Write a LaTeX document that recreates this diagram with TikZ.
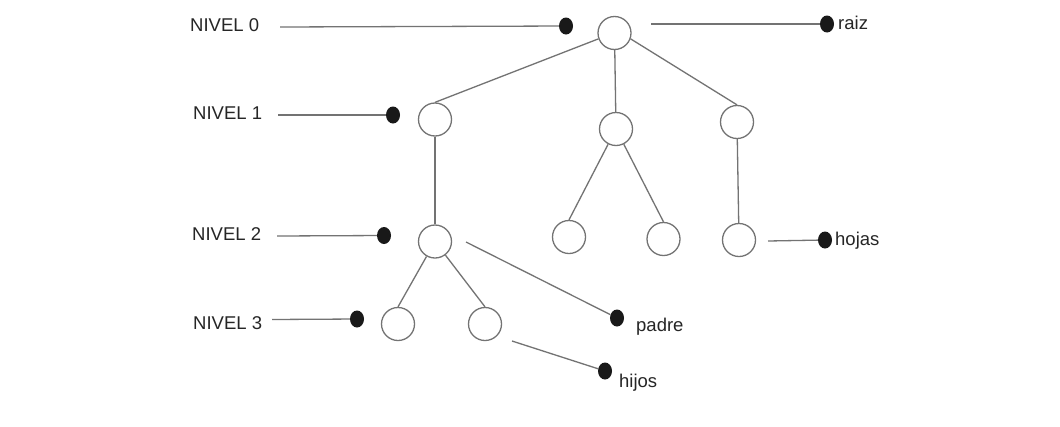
\documentclass[tikz,border=0pt]{standalone}
\usepackage{fontspec}
\setmainfont{Liberation Sans}
\usetikzlibrary{shapes.geometric}
\begin{document}
\begin{tikzpicture}[x=1pt,y=-1pt,
  tn/.style={circle,draw=black!55,line width=1.3pt,fill=white,minimum size=33pt,inner sep=0pt},
  dotn/.style={ellipse,fill=black!90,minimum width=14pt,minimum height=17pt,inner sep=0pt},
  edge/.style={draw=black!55,line width=1.3pt},
  lbl/.style={anchor=base west,inner sep=0pt,font=\fontsize{18.5}{20}\selectfont,text=black!85}
]
\useasboundingbox[fill=white] (0,0) rectangle (1060,426);
% tree nodes
\node[tn] (r) at (614.5,33) {};
\node[tn] (a) at (435,119.5) {};
\node[tn] (b) at (616,129) {};
\node[tn] (c) at (737,122) {};
\node[tn] (a1) at (435,241.5) {};
\node[tn] (b1) at (569,237) {};
\node[tn] (b2) at (663.5,239) {};
\node[tn] (c1) at (739,240) {};
\node[tn] (a11) at (398,324) {};
\node[tn] (a12) at (485,324) {};
% edges
\draw[edge] (r.200) -- (a.north);
\draw[edge] (r) -- (b);
\draw[edge] (r.340) -- (c.north);
\draw[edge] (a) -- (a1);
\draw[edge] (b) -- (b1.north);
\draw[edge] (b) -- (b2.north);
\draw[edge] (c) -- (c1);
\draw[edge] (a1) -- (a11.north);
\draw[edge] (a1) -- (a12.north);
% level labels
\node[lbl] (n0) at (190,31) {NIVEL 0};
\node[lbl] (n1) at (193,119) {NIVEL 1};
\node[lbl] (n2) at (192,240) {NIVEL 2};
\node[lbl] (n3) at (193,329) {NIVEL 3};
\coordinate (s0) at (280,27);
\coordinate (s1) at (278,115);
\coordinate (s2) at (277,236);
\coordinate (s3) at (272,319.5);
\node[dotn] (d0) at (566,26) {};
\node[dotn] (d1) at (393,115) {};
\node[dotn] (d2) at (384,235.5) {};
\node[dotn] (d3) at (357,319) {};
\draw[edge] (s0) -- (d0);
\draw[edge] (s1) -- (d1);
\draw[edge] (s2) -- (d2);
\draw[edge] (s3) -- (d3);
% right labels
\coordinate (sr) at (651,24);
\node[dotn] (dr) at (827,24) {};
\node[lbl] (raiz) at (838,29) {raiz};
\draw[edge] (sr) -- (dr);
\coordinate (sh) at (768,241);
\node[dotn] (dh) at (825,240) {};
\node[lbl] (hojas) at (835,245) {hojas};
\draw[edge] (sh) -- (dh);
\coordinate (sp) at (466,242);
\node[dotn] (dp) at (617,318) {};
\node[lbl] (padre) at (636,331) {padre};
\draw[edge] (sp) -- (dp);
\coordinate (sj) at (512,341);
\node[dotn] (dj) at (605,371) {};
\node[lbl] (hijos) at (619,387) {hijos};
\draw[edge] (sj) -- (dj);
\end{tikzpicture}
\end{document}
